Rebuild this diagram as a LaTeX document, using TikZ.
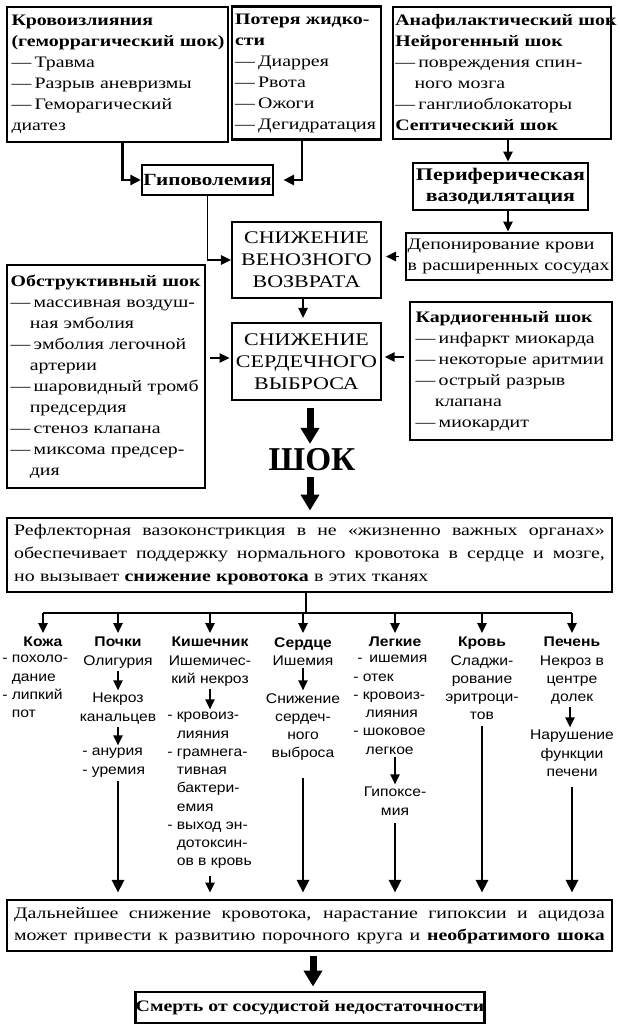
\documentclass[tikz,border=0pt]{standalone}
\usepackage{fontspec}
\setmainfont{Liberation Serif}[FakeStretch=1.24]
\setsansfont{Liberation Sans}[FakeStretch=1.12]
\newfontfamily\shokfont{Liberation Serif}
\usetikzlibrary{arrows.meta}
\newcommand\topfnt{\fontsize{12}{15.75}\selectfont}
\newcommand\capfnt{\fontsize{13.3}{16.5}\selectfont}
\newcommand\colfnt{\sffamily\fontsize{10.5}{13.7}\selectfont}
\newcommand\dsh{—\nobreak\hspace{0.2em}\nobreak}
\newcommand\ind{\hspace*{1.2em}}
\newcommand\cind{\phantom{- }}
\newcommand\jline[1]{\leavevmode\hbox to 443pt{\spaceskip=0.28em plus 1fil\relax #1}}
\tikzset{
  box/.style={draw, line width=2.2pt, inner sep=0pt, font=\topfnt},
  tbox/.style={draw, line width=1.6pt, inner sep=0pt, font=\topfnt},
  col/.style={inner sep=0pt, font=\colfnt, align=center},
  coll/.style={inner sep=0pt, font=\colfnt, align=left},
  sarr/.style={line width=1.1pt, -{Triangle[width=7pt,length=7.5pt]}, shorten <=2pt, shorten >=2pt},
  marr/.style={line width=1.3pt, -{Triangle[width=7pt,length=7.5pt]}},
  tarr/.style={line width=2.2pt, -{Triangle[width=7.5pt,length=8pt]}},
  larr/.style={line width=2.2pt, -{Triangle[width=9pt,length=9.5pt]}},
  bigarr/.style={line width=5.25pt, -{Triangle[width=13.5pt,length=12pt]}},
  dline/.style={line width=1.6pt}
}
\begin{document}
\begin{tikzpicture}[x=0.75pt,y=-0.75pt]
\useasboundingbox (0,0) rectangle (620,1034);

% top boxes
\node[box, minimum width=165.75pt, minimum height=101.25pt, text width=159pt, inner xsep=3.375pt, align=left] (krov) at (117.5,74.5)
 {\textbf{Кровоизлияния}\\\textbf{(геморрагический~шок)}\\\dsh Травма\\\dsh Разрыв~аневризмы\\\dsh Геморагический\\диатез};
\node[box, minimum width=111.75pt, minimum height=99.75pt, text width=107pt, inner xsep=2.375pt, align=left] (poter) at (306.5,73)
 {\textbf{Потеря~жидко-}\\\textbf{сти}\\\dsh Диаррея\\\dsh Рвота\\\dsh Ожоги\\\dsh Дегидратация};
\node[box, minimum width=163.5pt, minimum height=99pt, text width=160pt, inner xsep=1.75pt, align=left] (anaf) at (502,73)
 {\textbf{Анафилактический~шок}\\\textbf{Нейрогенный~шок}\\\dsh повреждения~спин-\\\ind ного~мозга\\\dsh ганглиоблокаторы\\\textbf{Септический~шок}};

\node[tbox, minimum width=98.25pt, minimum height=22.5pt, font=\fontsize{12.8}{15}\selectfont\bfseries] (gipo) at (207.5,180) {Гиповолемия};
\node[box, minimum width=131.25pt, minimum height=35.25pt, align=center, font=\fontsize{13.3}{15.75}\selectfont\bfseries] (perif) at (500.5,186.5) {Периферическая\\вазодилятация};
\node[box, minimum width=154.5pt, minimum height=35.25pt, text width=152pt, inner xsep=1.25pt, align=left] (depon) at (509,256.5) {Депонирование~крови\\в~расширенных~сосудах};

\node[tbox, minimum width=111.75pt, minimum height=57pt, align=center, font=\capfnt] (ven) at (306.5,260) {СНИЖЕНИЕ\\ВЕНОЗНОГО\\ВОЗВРАТА};
\node[tbox, minimum width=111.75pt, minimum height=57.75pt, align=center, font=\capfnt] (card) at (306.5,361.5) {СНИЖЕНИЕ\\СЕРДЕЧНОГО\\ВЫБРОСА};

\node[box, minimum width=148.5pt, minimum height=167.25pt, text width=143pt, inner xsep=2.75pt, align=left] (obst) at (106,376.5)
 {\textbf{Обструктивный~шок}\\\dsh массивная~воздуш-\\\ind ная~эмболия\\\dsh эмболия~легочной\\\ind артерии\\\dsh шаровидный~тромб\\\ind предсердия\\\dsh стеноз~клапана\\\dsh миксома~предсер-\\\ind дия};
\node[box, minimum width=151.5pt, minimum height=103.5pt, text width=143pt, inner xsep=4.25pt, align=left] (cardio) at (511,371)
 {\textbf{Кардиогенный~шок}\\\dsh инфаркт~миокарда\\\dsh некоторые~аритмии\\\dsh острый~разрыв\\\ind клапана\\\dsh миокардит};

\node[inner sep=0pt, font=\shokfont\fontsize{25}{30}\selectfont\bfseries] (shock) at (312,460) {ШОК};

\node[box, minimum width=453.75pt, minimum height=55.5pt, text width=443pt, inner xsep=5.375pt, align=left, font=\fontsize{12}{17.25}\selectfont] (refl) at (309.5,555)
 {\jline{Рефлекторная вазоконстрикция в не «жизненно важных органах»}\\
  \jline{обеспечивает поддержку нормального кровотока в сердце и мозге,}\\
  но~вызывает~\textbf{снижение~кровотока} в~этих~тканях};

% columns
\coordinate (hub) at (306,613);
\coordinate (c1) at (43,613);
\coordinate (c2) at (118,613);
\coordinate (c3) at (210,613);
\coordinate (c4) at (303,613);
\coordinate (c5) at (395,613);
\coordinate (c6) at (482,613);
\coordinate (c7) at (572,613);

\node[col, anchor=north] (h1) at (43,637) {\textbf{Кожа}};
\node[coll, anchor=north west] (t1) at (2,655) {- похоло-\\\cind дание\\- липкий\\\cind пот};
\node[col, anchor=north] (h2) at (118,637) {\textbf{Почки}\\Олигурия};
\node[col, anchor=north] (n2a) at (118,693) {Некроз\\канальцев};
\node[coll, anchor=north west] (n2b) at (82,748) {- анурия\\- уремия};
\node[col, anchor=north] (h3) at (210,637) {\textbf{Кишечник}\\Ишемичес-\\кий некроз};
\node[coll, anchor=north west] (n3) at (167,712) {- кровоиз-\\\cind лияния\\- грамнега-\\\cind тивная\\\cind бактери-\\\cind емия\\- выход эн-\\\cind дотоксин-\\\cind ов в кровь};
\node[col, anchor=north] (h4) at (303,637) {\textbf{Сердце}\\Ишемия};
\node[col, anchor=north] (n4) at (303,693) {Снижение\\сердеч-\\ного\\выброса};
\node[col, anchor=north] (h5) at (395,637) {\textbf{Легкие}};
\node[coll, anchor=north west] (n5) at (353,655) {\hspace*{0.3em}- \,ишемия\\- отек\\- кровоиз-\\\cind\hspace*{0.2em}лияния\\- шоковое\\\cind\hspace*{0.2em}легкое};
\node[col, anchor=north] (n5b) at (395,787) {Гипоксе-\\мия};
\node[col, anchor=north] (h6) at (482,637) {\textbf{Кровь}\\Сладжи-\\рование\\эритроци-\\тов};
\node[col, anchor=north] (h7) at (572,637) {\textbf{Печень}\\Некроз в\\центре\\долек};
\node[col, anchor=north] (n7) at (572,730) {Нарушение\\функции\\печени};

\node[box, minimum width=453.75pt, minimum height=38.25pt, text width=443pt, inner xsep=5.375pt, align=left, font=\fontsize{12}{16.5}\selectfont] (further) at (309.5,925.5)
 {\jline{Дальнейшее снижение кровотока, нарастание гипоксии и ацидоза}\\
  \jline{может привести к развитию порочного круга и \textbf{необратимого шока}}};
\node[box, minimum width=255pt, minimum height=23.25pt, font=\topfnt\bfseries] (death) at (310,1007.5) {Смерть от сосудистой недостаточности};

% connectors top
\draw[tarr] ([xshift=4pt]krov.south) |- (gipo.west);
\draw[tarr, shorten >=7pt] ([xshift=-3.4pt]poter.south) |- (gipo.east);
\draw[marr] ([xshift=4.5pt]anaf.south) -- ([xshift=4.5pt]anaf.south |- perif.north);
\draw[marr] ([xshift=5.6pt]perif.south) -- ([xshift=5.6pt]perif.south |- depon.north);
\draw[marr, shorten <=4.5pt, shorten >=3pt] (depon.west) -- (ven.east |- depon.west);
\draw[marr] (gipo.south) |- (ven.west);
\draw[marr, shorten >=3pt] ([xshift=-2.6pt]ven.south) -- ([xshift=-2.6pt]ven.south |- card.north);
\draw[marr, shorten <=3pt, shorten >=1pt] (obst.east |- 0,358) -- (card.west |- 0,358);
\draw[marr, shorten <=3.5pt, shorten >=2pt] (cardio.west |- 0,357) -- (card.east |- 0,357);

\coordinate (ax) at (310,0);
\draw[bigarr, shorten <=5pt, shorten >=3.5pt] (card.south -| ax) -- (shock.north -| ax);
\draw[bigarr, shorten <=4.5pt, shorten >=4.5pt] (shock.south -| ax) -- (refl.north -| ax);

% distribution
\draw[dline] (refl.south -| hub) -- (hub);
\draw[dline] (c1) -- (c7);
\foreach \c/\h in {c1/h1,c2/h2,c3/h3,c4/h4,c5/h5,c6/h6,c7/h7}
  \draw[sarr, line width=1.2pt, shorten <=0pt, shorten >=3pt] (\c) -- (\c |- \h.north);

% column inner arrows
\draw[sarr] (h2.south) -- (h2.south |- n2a.north);
\draw[sarr] (n2a.south) -- (n2a.south |- n2b.north);
\draw[sarr] (h3.south) -- (h3.south |- n3.north);
\draw[sarr] (h4.south) -- (h4.south |- n4.north);
\draw[sarr] (n5.south -| c5) -- (n5b.north);
\draw[sarr] ([xshift=-1.5pt]h7.south) -- ([xshift=-1.5pt]h7.south |- n7.north);
\draw[sarr, shorten <=5pt, shorten >=4.5pt] (n3.south -| c3) -- (further.north -| c3);

% long arrows
\draw[larr, shorten <=3pt, shorten >=4.5pt] (n2b.south -| c2) -- (further.north -| c2);
\draw[larr, shorten <=12.5pt, shorten >=4.5pt] (n4.south -| c4) -- (further.north -| c4);
\draw[larr, shorten <=6pt, shorten >=4.5pt] (n5b.south -| c5) -- (further.north -| c5);
\draw[larr, shorten <=4.5pt, shorten >=4.5pt] (h6.south -| c6) -- (further.north -| c6);
\draw[larr, shorten <=7.5pt, shorten >=4.5pt] (n7.south -| c7) -- (further.north -| c7);

\coordinate (bx) at (313,0);
\draw[bigarr, shorten <=3pt, shorten >=3pt] (further.south -| bx) -- (death.north -| bx);
\end{tikzpicture}
\end{document}
